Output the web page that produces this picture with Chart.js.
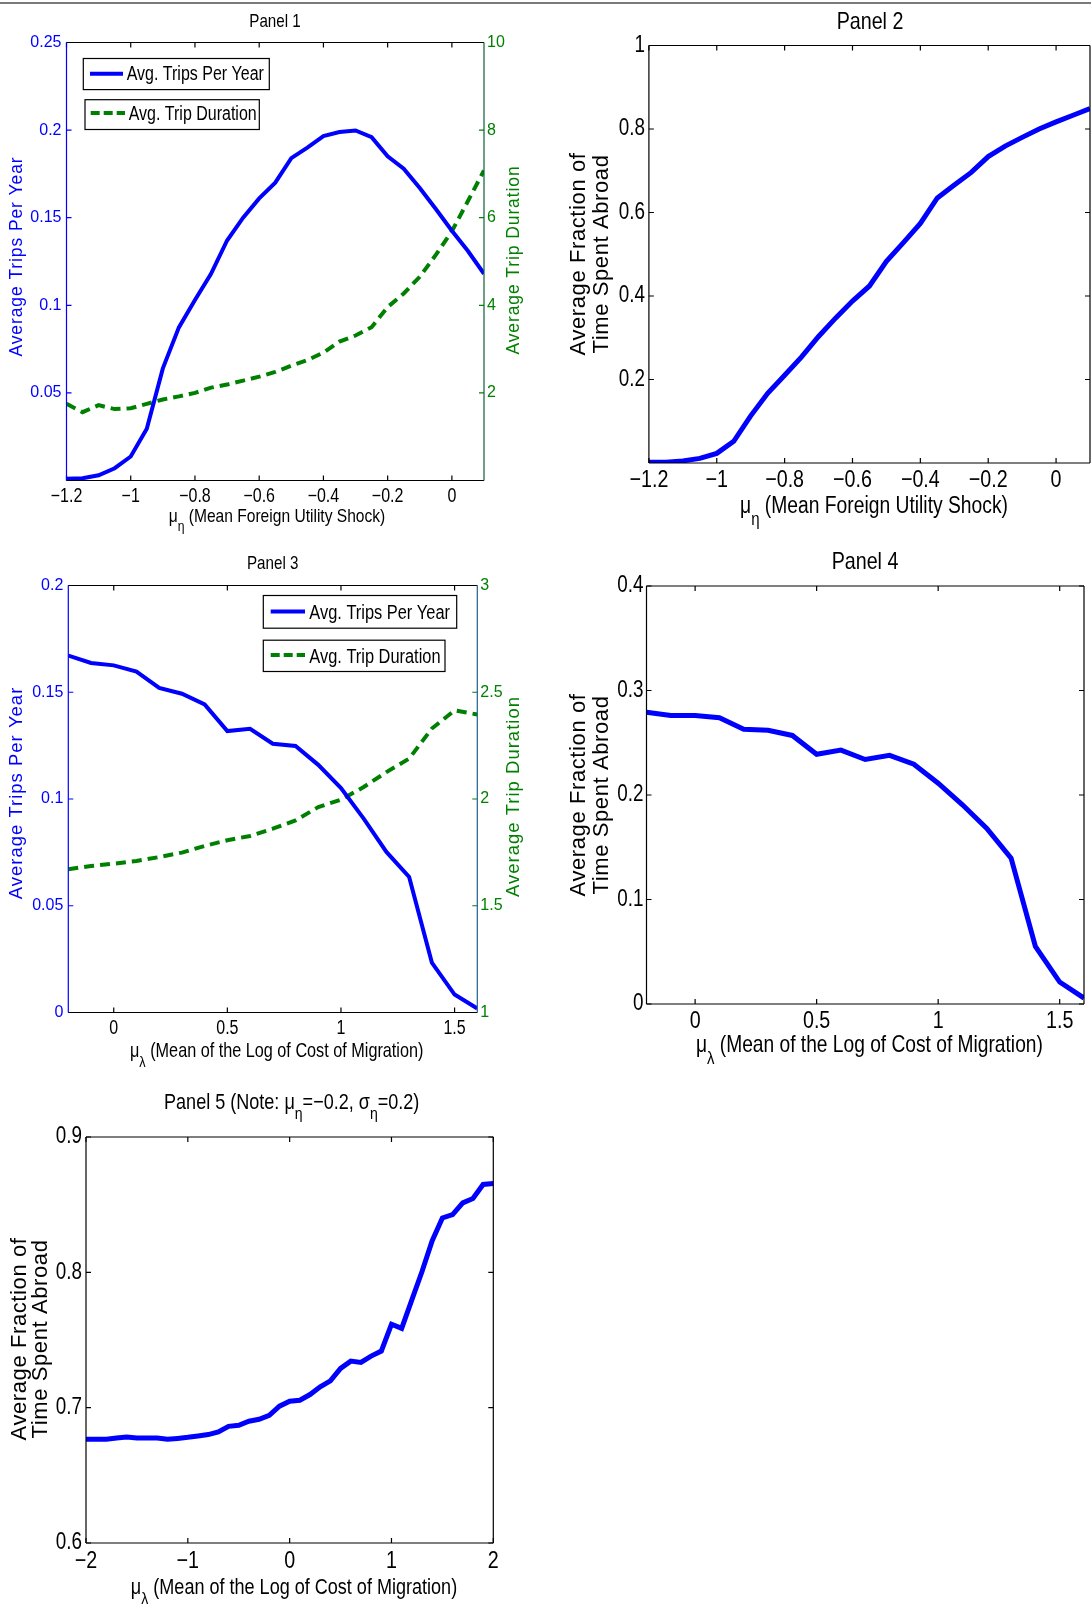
<!DOCTYPE html>
<html>
<head>
<meta charset="utf-8">
<script src="https://cdn.jsdelivr.net/npm/chart.js@4.4.1/dist/chart.umd.min.js"></script>
<style>
html,body{margin:0;padding:0;background:#fff;}
#wrap{position:relative;width:1091px;height:1604px;overflow:hidden;background:#fff;}
#wrap canvas{position:absolute;left:0;top:0;}
#topline{position:absolute;left:0;top:2px;width:1091px;height:2px;background:#7a7a7a;}
</style>
</head>
<body>
<div id="wrap">
<div id="topline"></div>
<canvas id="p1" width="1091" height="1604"></canvas>
<canvas id="p2" width="1091" height="1604"></canvas>
<canvas id="p3" width="1091" height="1604"></canvas>
<canvas id="p4" width="1091" height="1604"></canvas>
<canvas id="p5" width="1091" height="1604"></canvas>
</div>
<script>
// ---- data ----
const mu = [-1.2,-1.15,-1.1,-1.05,-1,-0.95,-0.9,-0.85,-0.8,-0.75,-0.7,-0.65,-0.6,-0.55,-0.5,-0.45,-0.4,-0.35,-0.3,-0.25,-0.2,-0.15,-0.1,-0.05,0,0.05,0.1];
const trips1 = [0.001,0.0013,0.003,0.007,0.0137,0.0296,0.064,0.0874,0.103,0.118,0.137,0.150,0.161,0.170,0.184,0.190,0.1966,0.1989,0.1998,0.196,0.185,0.178,0.167,0.155,0.1426,0.131,0.118];
const dur1 = [1.75,1.56,1.72,1.63,1.65,1.75,1.85,1.92,2.0,2.12,2.19,2.28,2.37,2.48,2.62,2.75,2.92,3.17,3.31,3.5,3.96,4.27,4.65,5.15,5.69,6.38,7.08];
const frac2 = [0.002,0.002,0.005,0.011,0.023,0.052,0.113,0.167,0.210,0.254,0.303,0.347,0.388,0.424,0.483,0.528,0.574,0.635,0.666,0.696,0.734,0.759,0.780,0.800,0.817,0.833,0.849];

const lam = [-0.2,-0.1,0,0.1,0.2,0.3,0.4,0.5,0.6,0.7,0.8,0.9,1,1.1,1.2,1.3,1.4,1.5,1.6];
const trips3 = [0.1672,0.1637,0.1626,0.1597,0.152,0.1493,0.1443,0.1318,0.1329,0.1259,0.1248,0.116,0.1051,0.0908,0.0752,0.0635,0.0234,0.0084,0.0019];
const dur3 = [1.671,1.686,1.697,1.71,1.728,1.749,1.78,1.807,1.827,1.861,1.9,1.962,1.997,2.056,2.126,2.189,2.33,2.415,2.396];
const frac4 = [0.2792,0.276,0.276,0.274,0.263,0.262,0.257,0.239,0.243,0.234,0.238,0.2295,0.2113,0.1906,0.168,0.1396,0.0551,0.021,0.0057];

const lam5 = [-2,-1.9,-1.8,-1.7,-1.6,-1.5,-1.4,-1.3,-1.2,-1.1,-1,-0.9,-0.8,-0.7,-0.6,-0.5,-0.4,-0.3,-0.2,-0.1,0,0.1,0.2,0.3,0.4,0.5,0.6,0.7,0.8,0.9,1,1.1,1.2,1.3,1.4,1.5,1.6,1.7,1.8,1.9,2];
const frac5 = [0.6766,0.6766,0.6766,0.6776,0.6783,0.6776,0.6776,0.6776,0.6766,0.6773,0.6781,0.6791,0.6801,0.682,0.6862,0.687,0.69,0.6914,0.6944,0.7011,0.7048,0.7055,0.7097,0.7154,0.7198,0.729,0.7344,0.7334,0.7381,0.7418,0.7616,0.7586,0.7796,0.8006,0.8234,0.8402,0.8427,0.8513,0.8545,0.8649,0.8656];

// tick values
const xTicksMu = [-1.2,-1,-0.8,-0.6,-0.4,-0.2,0];
const xTicksLam = [0,0.5,1,1.5];
const xTicks5 = [-2,-1,0,1,2];
const yTicks1 = [0.05,0.1,0.15,0.2,0.25];
const yTicks1r = [2,4,6,8,10];
const yTicks2 = [0.2,0.4,0.6,0.8,1];
const yTicks3 = [0,0.05,0.1,0.15,0.2];
const yTicks3r = [1,1.5,2,2.5,3];
const yTicks4 = [0,0.1,0.2,0.3,0.4];
const yTicks5 = [0.6,0.7,0.8,0.9];

// ---- helpers ----
const SANS = "'Liberation Sans',Arial,sans-serif";
const NX = 0.82;   // horizontal squeeze to imitate Helvetica Narrow
const BLUE = '#0000ff', GREEN = '#008000';
const W = 1091, H = 1604;

function fmt(v){ return String(v).replace('-', '\u2212'); }
function pts(xs, ys){ return xs.map((x,i)=>({x:x, y:ys[i]})); }
function fixTicks(vals){ return function(s){ s.ticks = vals.map(v=>({value:v})); }; }

function text(g, s, x, y, size, sx, align, color){
  g.save();
  g.translate(x, y); g.scale(sx, 1);
  g.font = size+'px '+SANS; g.fillStyle = color;
  g.textAlign = align; g.textBaseline = 'middle';
  g.fillText(s, 0, 0);
  g.restore();
}

function drawRich(g, segs, cx, cy, size){
  const sub = size*0.78;
  let w = 0;
  segs.forEach(s=>{ g.font = (s[1]?sub:size)+'px '+SANS; w += g.measureText(s[0]).width*NX; });
  let x = cx - w/2;
  segs.forEach(s=>{
    const sz = s[1]?sub:size;
    text(g, s[0], x, s[1] ? cy + size*0.55 : cy, sz, NX, 'left', '#000');
    g.font = sz+'px '+SANS;
    x += g.measureText(s[0]).width*NX;
  });
}

function drawVert(g, t){
  g.save();
  g.translate(t.x, t.y);
  g.rotate(-Math.PI/2);
  g.font = t.size+'px '+SANS;
  if ('letterSpacing' in g) g.letterSpacing = (t.ls||0)+'px';
  g.fillStyle = t.color; g.textAlign = 'center'; g.textBaseline = 'middle';
  t.lines.forEach((l,i)=>g.fillText(l, 0, (i-(t.lines.length-1)/2)*(t.gap||0)));
  g.restore();
}

function matlabPlugin(c){
  return {
    id: 'matlab',
    afterDatasetsDraw(chart){
      const g = chart.ctx, a = chart.chartArea;
      const sx = chart.scales.x, sy = chart.scales.y, sy2 = chart.scales.y2;
      const T = 5;
      g.save();
      g.lineWidth = 1.2;
      g.setLineDash([]);
      // inward tick marks
      g.strokeStyle = '#000';
      g.beginPath();
      sx.ticks.forEach(t=>{ const p = sx.getPixelForValue(t.value);
        g.moveTo(p,a.bottom); g.lineTo(p,a.bottom-T); g.moveTo(p,a.top); g.lineTo(p,a.top+T); });
      g.stroke();
      g.strokeStyle = c.leftColor; g.beginPath();
      sy.ticks.forEach(t=>{ const p = sy.getPixelForValue(t.value);
        g.moveTo(a.left,p); g.lineTo(a.left+T,p);
        if(!sy2){ g.moveTo(a.right,p); g.lineTo(a.right-T,p); } });
      g.stroke();
      if (sy2){
        g.strokeStyle = GREEN; g.beginPath();
        sy2.ticks.forEach(t=>{ const p = sy2.getPixelForValue(t.value); g.moveTo(a.right,p); g.lineTo(a.right-T,p); });
        g.stroke();
      }
      const ln = (x1,y1,x2,y2,col)=>{ g.strokeStyle=col; g.beginPath(); g.moveTo(x1,y1); g.lineTo(x2,y2); g.stroke(); };
      ln(a.left,a.top,a.right,a.top,'#000');
      ln(a.left,a.bottom,a.right,a.bottom,'#000');
      ln(a.right,a.top,a.right,a.bottom,c.rightColor);
      ln(a.left,a.top,a.left,a.bottom,c.leftColor);

      // tick labels
      sx.ticks.forEach(t=>text(g, fmt(t.value), sx.getPixelForValue(t.value), a.bottom + c.xOff, c.xSize, NX, 'center', '#000'));
      sy.ticks.forEach(t=>text(g, fmt(t.value), a.left - c.yPad, sy.getPixelForValue(t.value), c.ySize, c.ySx, 'right', c.leftColor));
      if (sy2) sy2.ticks.forEach(t=>text(g, fmt(t.value), a.right + 3, sy2.getPixelForValue(t.value), c.ySize, 1, 'left', GREEN));

      // legend boxes
      (c.legend||[]).forEach(e=>{
        const ds = chart.data.datasets[e.ds];
        g.fillStyle = '#fff'; g.fillRect(e.box[0],e.box[1],e.box[2]-e.box[0],e.box[3]-e.box[1]);
        g.lineWidth = 1.2; g.strokeStyle = '#000'; g.setLineDash([]);
        g.strokeRect(e.box[0],e.box[1],e.box[2]-e.box[0],e.box[3]-e.box[1]);
        g.lineWidth = ds.borderWidth; g.strokeStyle = ds.borderColor; g.setLineDash(e.dash||[]);
        g.lineCap = 'butt';
        g.beginPath(); g.moveTo(e.line[0],e.ly); g.lineTo(e.line[1],e.ly); g.stroke();
        g.setLineDash([]);
        text(g, ds.label, e.tx, e.ty, e.size, NX, 'left', '#000');
      });

      drawRich(g, c.title.segs, c.title.x, c.title.y, c.title.size);
      drawRich(g, c.xTitle.segs, c.xTitle.x, c.xTitle.y, c.xTitle.size);
      c.yTitles.forEach(t=>drawVert(g, t));
      g.restore();
    }
  };
}

function makeChart(id, c){
  const [L,T,R,B] = c.area;
  const axis = (min, max, vals, pos, w)=>({
    type:'linear', position:pos, min:min, max:max,
    grid:{display:false, drawTicks:false}, border:{display:false},
    afterBuildTicks: fixTicks(vals),
    afterFit: s=>{ if (pos==='bottom') s.height = w; else s.width = w; },
    ticks:{display:false, autoSkip:false, maxRotation:0}
  });
  const scales = {
    x: axis(c.xMin, c.xMax, c.xt, 'bottom', 44),
    y: axis(c.yMin, c.yMax, c.yt, 'left', 60)
  };
  if (c.y2) scales.y2 = axis(c.y2Min, c.y2Max, c.yt2, 'right', 40);
  return new Chart(document.getElementById(id), {
    type:'line',
    data:{datasets:c.datasets},
    options:{
      responsive:false, animation:false, devicePixelRatio:1,
      layout:{padding:{left:L-60, top:T, right: c.y2 ? W-R-40 : W-R, bottom:H-B-44}},
      plugins:{legend:{display:false}, title:{display:false}, tooltip:{enabled:false}},
      elements:{point:{radius:0}, line:{tension:0}},
      scales:scales
    },
    plugins:[matlabPlugin(c)]
  });
}

const muLab = [['\u03bc'],['\u03b7',1],[' (Mean Foreign Utility Shock)']];
const lamLab = [['\u03bc'],['\u03bb',1],[' (Mean of the Log of Cost of Migration)']];
const fracTitle = ['Average Fraction of','Time Spent Abroad'];

// Panel 1
makeChart('p1', {
  area:[66.5,42.5,484,480.5], xMin:-1.2, xMax:0.1, yMin:0, yMax:0.25, y2:true, y2Min:0, y2Max:10,
  xt:xTicksMu, yt:yTicks1, yt2:yTicks1r,
  xSize:19.5, xOff:16, ySize:16, ySx:1, yPad:5, leftColor:BLUE, rightColor:'#0b5e3a',
  datasets:[
    {label:'Avg. Trips Per Year', data:pts(mu,trips1), borderColor:BLUE, borderWidth:4, yAxisID:'y'},
    {label:'Avg. Trip Duration', data:pts(mu,dur1), borderColor:GREEN, borderWidth:4, borderDash:[10,6], yAxisID:'y2'}
  ],
  legend:[
    {ds:0, box:[83.3,58.5,269.3,89.6], line:[90,123], ly:73.7, tx:126.7, ty:74.5, size:19.5},
    {ds:1, box:[85,99.7,259.3,129.5], line:[90.7,125], ly:113, tx:128.7, ty:114.5, size:19.5, dash:[9,4]}
  ],
  title:{segs:[['Panel 1']], x:275, y:22, size:18.5},
  xTitle:{segs:muLab, x:277, y:516.5, size:19},
  yTitles:[{lines:['Average Trips Per Year'], x:17.5, y:256.5, size:17.5, ls:0.9, color:BLUE},
           {lines:['Average Trip Duration'], x:514, y:260, size:17.5, ls:0.9, color:GREEN}]
});

// Panel 2
makeChart('p2', {
  area:[648.9,45.5,1090,463], xMin:-1.2, xMax:0.1, yMin:0, yMax:1,
  xt:xTicksMu, yt:yTicks2,
  xSize:24, xOff:17, ySize:23, ySx:NX, yPad:4, leftColor:'#000', rightColor:'#000',
  datasets:[{label:'Fraction', data:pts(mu,frac2), borderColor:BLUE, borderWidth:5}],
  title:{segs:[['Panel 2']], x:870, y:22, size:24},
  xTitle:{segs:muLab, x:874, y:507, size:23.5},
  yTitles:[{lines:fracTitle, x:590, y:254, size:22, ls:0.6, gap:23, color:'#000'}]
});

// Panel 3
makeChart('p3', {
  area:[68.3,585.5,477.3,1012.5], xMin:-0.2, xMax:1.6, yMin:0, yMax:0.2, y2:true, y2Min:1, y2Max:3,
  xt:xTicksLam, yt:yTicks3, yt2:yTicks3r,
  xSize:19.5, xOff:16, ySize:16, ySx:1, yPad:5, leftColor:BLUE, rightColor:'#1f5f8f',
  datasets:[
    {label:'Avg. Trips Per Year', data:pts(lam,trips3), borderColor:BLUE, borderWidth:4, yAxisID:'y'},
    {label:'Avg. Trip Duration', data:pts(lam,dur3), borderColor:GREEN, borderWidth:4, borderDash:[10,6], yAxisID:'y2'}
  ],
  legend:[
    {ds:0, box:[263.3,595.5,456.7,628.2], line:[270.7,305], ly:611.5, tx:309.3, ty:613, size:20},
    {ds:1, box:[263.3,640.2,445,671.5], line:[270.7,305], ly:655, tx:309.3, ty:657, size:20, dash:[9,4]}
  ],
  title:{segs:[['Panel 3']], x:272.7, y:564, size:18.5},
  xTitle:{segs:lamLab, x:276.7, y:1051.5, size:19.8},
  yTitles:[{lines:['Average Trips Per Year'], x:17.3, y:793, size:18.5, ls:1.0, color:BLUE},
           {lines:['Average Trip Duration'], x:514, y:796.5, size:18.5, ls:1.0, color:GREEN}]
});

// Panel 4
makeChart('p4', {
  area:[646.5,586,1084,1004], xMin:-0.2, xMax:1.6, yMin:0, yMax:0.4,
  xt:xTicksLam, yt:yTicks4,
  xSize:24, xOff:17, ySize:23, ySx:NX, yPad:3, leftColor:'#000', rightColor:'#000',
  datasets:[{label:'Fraction', data:pts(lam,frac4), borderColor:BLUE, borderWidth:5}],
  title:{segs:[['Panel 4']], x:865, y:562.5, size:24},
  xTitle:{segs:lamLab, x:869.4, y:1046, size:23.4},
  yTitles:[{lines:fracTitle, x:590, y:795, size:22, ls:0.6, gap:23, color:'#000'}]
});

// Panel 5
makeChart('p5', {
  area:[86,1137,493.3,1543], xMin:-2, xMax:2, yMin:0.6, yMax:0.9,
  xt:xTicks5, yt:yTicks5,
  xSize:24, xOff:18.5, ySize:23, ySx:NX, yPad:4, leftColor:'#000', rightColor:'#000',
  datasets:[{label:'Fraction', data:pts(lam5,frac5), borderColor:BLUE, borderWidth:5}],
  title:{segs:[['Panel 5 (Note: \u03bc'],['\u03b7',1],['=\u22120.2, \u03c3'],['\u03b7',1],['=0.2)']], x:291.7, y:1102.5, size:22},
  xTitle:{segs:lamLab, x:294, y:1587.5, size:22},
  yTitles:[{lines:fracTitle, x:30, y:1339, size:22, ls:0.6, gap:21, color:'#000'}]
});
</script>
</body>
</html>
